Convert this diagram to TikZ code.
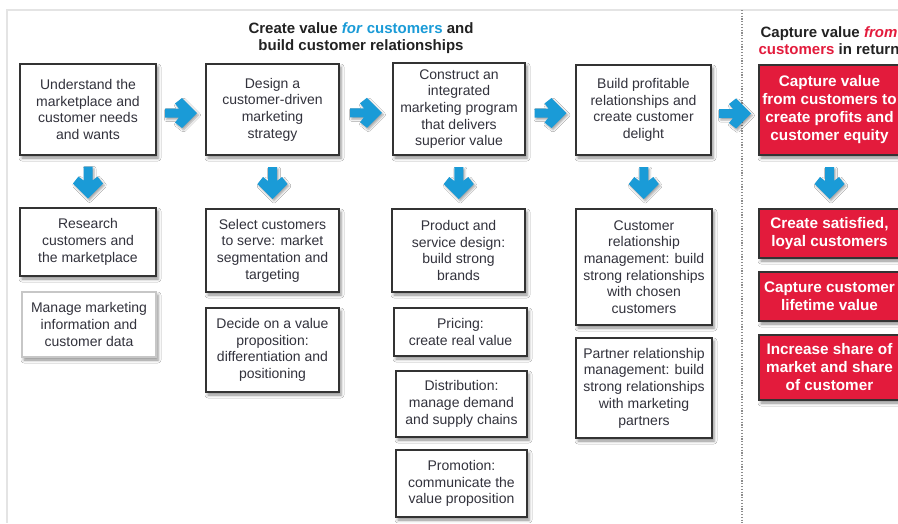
\documentclass[tikz,border=0pt]{standalone}
\usepackage{fontspec}
\setmainfont{Liberation Sans}
\usetikzlibrary{calc,shadows.blur}

\definecolor{flowblue}{HTML}{1A9BD7}
\definecolor{valred}{HTML}{E31B3C}
\definecolor{inkgray}{HTML}{32323C}
\definecolor{edgegray}{HTML}{333333}
\definecolor{framegray}{HTML}{E4E4E4}
\definecolor{titleink}{HTML}{222222}

\tikzset{
  softshadow/.style={blur shadow={shadow xshift=2pt, shadow yshift=-3pt,
      shadow blur radius=3pt, shadow opacity=45}},
  stagebox/.style={draw=edgegray, line width=1.7pt, fill=white, align=center,
      inner sep=1pt, text=inkgray, font=\fontsize{14}{16.7}\selectfont, softshadow},
  paleb/.style={stagebox, draw=black!22},
  redbox/.style={stagebox, fill=valred, draw=edgegray, text=white,
      font=\fontsize{15.3}{18}\selectfont\bfseries},
  headline/.style={align=center, text=titleink,
      font=\fontsize{15}{17}\selectfont\bfseries},
  flowarrow/.pic={
    \fill[flowblue, blur shadow={shadow xshift=1.5pt, shadow yshift=-2pt,
        shadow blur radius=2pt, shadow opacity=35}]
      (-16,-4.5) -- (-2,-4.5) -- (-6,-9.5) -- (1,-15) -- (16,0)
      -- (1,15) -- (-6,9.5) -- (-2,4.5) -- (-16,4.5) -- cycle;
  }
}

\begin{document}
\begin{tikzpicture}[x=1pt, y=-1pt]
  % canvas
  \fill[white] (0,0) rectangle (898,523);
  \useasboundingbox (0,0) rectangle (898,523);

  % page frame and the divider between the two stages
  \draw[framegray, line width=2pt] (7,523) -- (7,10) -- (898,10);
  \draw[black!45, line width=1.2pt, dash pattern=on 1.2pt off 1.6pt]
    (742,10) -- (742,523);

  % headings
  \node[headline] (h1) at (361,38.5)
    {Create value \textcolor{flowblue}{\textit{for} customers} and\\
     build customer relationships};
  \node[headline] (h2) at (829,40.5)
    {Capture value \textcolor{valred}{\textit{from}}\\
     \textcolor{valred}{customers} in return};

  % main process row
  \node[stagebox, minimum width=136pt, minimum height=91pt] (b1) at (88,109.5)
    {Understand the\\marketplace and\\customer needs\\and wants};
  \node[stagebox, minimum width=133pt, minimum height=91pt] (b2) at (272.5,109.5)
    {Design a\\customer-driven\\marketing\\strategy};
  \node[stagebox, minimum width=132pt, minimum height=92pt] (b3) at (459,109)
    {Construct an\\integrated\\marketing program\\that delivers\\superior value};
  \node[stagebox, minimum width=135pt, minimum height=90pt] (b4) at (643.5,110)
    {Build profitable\\relationships and\\create customer\\delight};
  \node[redbox, minimum width=141pt, minimum height=90pt] (b5) at (829.5,110)
    {Capture value\\from customers to\\create profits and\\customer equity};

  % column 1
  \node[stagebox, minimum width=136pt, minimum height=68pt] (r1) at (88,242)
    {Research\\customers and\\the marketplace};
  \node[paleb, minimum width=134pt, minimum height=65pt] (m1) at (89,324.5)
    {Manage marketing\\information and\\customer data};

  % column 2
  \node[stagebox, minimum width=133pt, minimum height=83pt] (s1) at (272.5,250.5)
    {Select customers\\to serve: market\\segmentation and\\targeting};
  \node[stagebox, minimum width=133pt, minimum height=84pt] (d1) at (272.5,350)
    {Decide on a value\\proposition:\\differentiation and\\positioning};

  % column 3
  \node[stagebox, minimum width=133pt, minimum height=83pt] (p1) at (458.5,250.5)
    {Product and\\service design:\\build strong\\brands};
  \node[stagebox, minimum width=133pt, minimum height=48pt] (pr) at (460.5,332)
    {Pricing:\\create real value};
  \node[stagebox, minimum width=131pt, minimum height=66pt] (di) at (461.5,404)
    {Distribution:\\manage demand\\and supply chains};
  \node[stagebox, minimum width=131pt, minimum height=67pt] (pm) at (461.5,483.5)
    {Promotion:\\communicate the\\value proposition};

  % column 4
  \node[stagebox, minimum width=136pt, minimum height=116pt] (cr) at (644,267)
    {Customer\\relationship\\management: build\\strong relationships\\with chosen\\customers};
  \node[stagebox, minimum width=136pt, minimum height=100pt] (pa) at (644,388)
    {Partner relationship\\management: build\\strong relationships\\with marketing\\partners};

  % column 5
  \node[redbox, minimum width=141pt, minimum height=49pt] (cs) at (829.5,233.5)
    {Create satisfied,\\loyal customers};
  \node[redbox, minimum width=141pt, minimum height=49pt] (cl) at (829.5,296.5)
    {Capture customer\\lifetime value};
  \node[redbox, minimum width=141pt, minimum height=65pt] (is) at (829.5,367.5)
    {Increase share of\\market and share\\of customer};

  % arrows along the main row
  \pic at ($(b1.east)!0.5!(b2.west)+(0,3.5)$) {flowarrow};
  \pic at ($(b2.east)!0.5!(b3.west)+(0,3.5)$) {flowarrow};
  \pic at ($(b3.east)!0.5!(b4.west)+(0,3.5)$) {flowarrow};
  \pic at ($(b4.east)!0.5!(b5.west)+(0,3.5)$) {flowarrow};

  % arrows down into each column
  \pic[rotate=-90] at ($(b1.south)!0.5!(r1.north)+(0,1)$) {flowarrow};
  \pic[rotate=-90] at ($(b2.south)!0.5!(s1.north)+(0,1)$) {flowarrow};
  \pic[rotate=-90] at ($(b3.south)!0.5!(p1.north)+(0,1)$) {flowarrow};
  \pic[rotate=-90] at ($(b4.south)!0.5!(cr.north)+(0,1)$) {flowarrow};
  \pic[rotate=-90] at ($(b5.south)!0.5!(cs.north)+(0,1)$) {flowarrow};
\end{tikzpicture}
\end{document}
